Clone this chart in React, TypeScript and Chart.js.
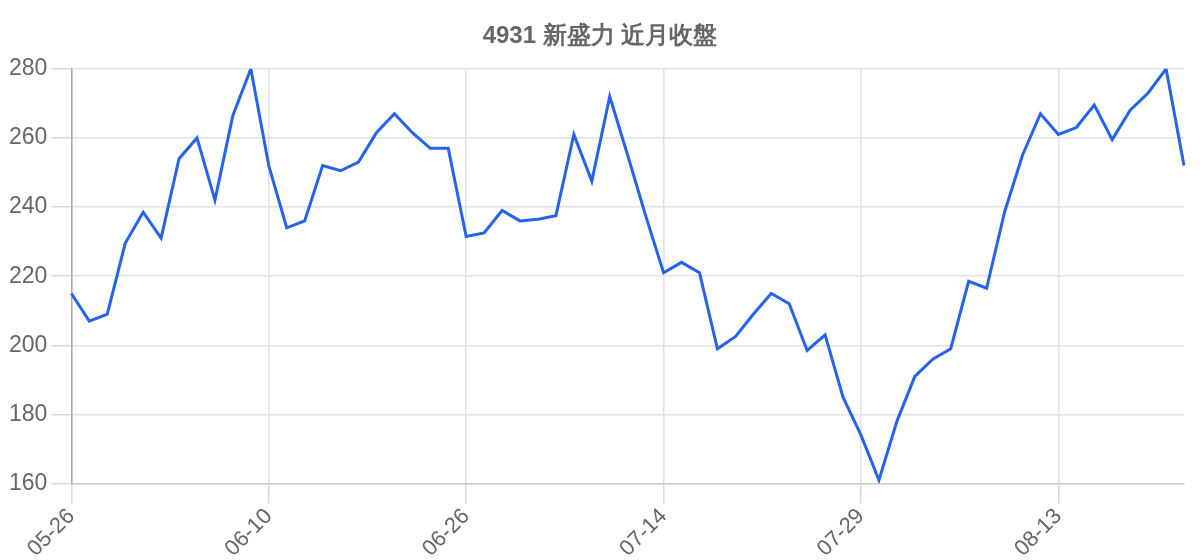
import { useEffect, useRef } from "react";
import Chart from "chart.js/auto";

const dates = [
  "05-26", "05-27", "05-30", "05-31", "06-01", "06-02", "06-03", "06-06", "06-07", "06-08", "06-09",
  "06-10", "06-13", "06-14", "06-15", "06-16", "06-17", "06-20", "06-21", "06-22", "06-23", "06-24",
  "06-26", "06-27", "06-28", "06-29", "06-30", "07-01", "07-05", "07-06", "07-07", "07-08", "07-12",
  "07-14", "07-15", "07-18", "07-19", "07-20", "07-21", "07-22", "07-25", "07-26", "07-27", "07-28",
  "07-29", "08-01", "08-02", "08-03", "08-04", "08-05", "08-08", "08-09", "08-10", "08-11", "08-12",
  "08-13", "08-15", "08-16", "08-17", "08-18", "08-19", "08-22", "08-23",
];

const closes = [
  215, 207, 209, 229.5, 238.5, 231, 254, 260, 242, 266.5, 280,
  252, 234, 236, 252, 250.5, 253, 261.5, 267, 261.5, 257, 257,
  231.5, 232.5, 239, 236, 236.5, 237.5, 261, 247.5, 272, 255, 237.5,
  221, 224, 221, 199, 202.5, 209, 215, 212, 198.5, 203, 185,
  174, 161, 178, 191, 196, 199, 218.5, 216.5, 238.5, 255, 267,
  261, 263, 269.5, 259.5, 268, 273, 280, 252,
];

const yTicks = [160, 180, 200, 220, 240, 260, 280];
const labelEvery = 11;

export default function App() {
  const canvasRef = useRef<HTMLCanvasElement>(null);
  const chartRef = useRef<any>(null);

  useEffect(() => {
    if (!canvasRef.current) return;
    const ctx = canvasRef.current.getContext("2d");
    if (!ctx) return;
    if (chartRef.current) chartRef.current.destroy();

    chartRef.current = new Chart(ctx, {
      type: "line",
      data: {
        labels: dates,
        datasets: [
          {
            label: "收盤",
            data: closes,
            borderColor: "#2563eb",
            borderWidth: 3,
            pointRadius: 0,
            tension: 0,
            fill: false,
          },
        ],
      },
      options: {
        animation: false,
        responsive: true,
        maintainAspectRatio: false,
        layout: { padding: { top: 0, left: 5, right: 5, bottom: -2 } },
        scales: {
          x: {
            grid: {
              color: "#e2e2e2",
              lineWidth: 1.5,
              tickLength: 20,
              tickColor: "#d8d8d8",
              tickWidth: 1.5,
            },
            border: { color: "#cccccc", width: 1.5 },
            afterFit: (scale) => {
              // extra room on the right so the title stays centred on the canvas
              scale.paddingRight = 16;
            },
            ticks: {
              color: "#666",
              font: { size: 22 },
              autoSkip: false,
              maxRotation: 45,
              minRotation: 45,
              padding: 0,
              callback: (_v, i) => (i % labelEvery === 0 ? dates[i] : null),
            },
          },
          y: {
            min: yTicks[0],
            max: yTicks[yTicks.length - 1],
            grid: {
              color: "#e2e2e2",
              lineWidth: 1.5,
              tickLength: 20,
              tickColor: "#d8d8d8",
              tickWidth: 1.5,
            },
            border: { color: "#aaaaaa", width: 1.5 },
            afterBuildTicks: (axis) => {
              axis.ticks = yTicks.map((v) => ({ value: v }));
            },
            ticks: { color: "#666", font: { size: 23 }, padding: 4 },
          },
        },
        plugins: {
          legend: { display: false },
          tooltip: { enabled: false },
          title: {
            display: true,
            text: "4931 新盛力 近月收盤",
            color: "#666",
            font: { size: 24, weight: "bold" },
            padding: { top: 22, bottom: 18 },
          },
        },
      },
    });

    return () => chartRef.current?.destroy();
  }, []);

  return (
    <div style={{ position: "fixed", left: 0, top: 0, width: 1200, height: 560 }}>
      <canvas ref={canvasRef} />
    </div>
  );
}
